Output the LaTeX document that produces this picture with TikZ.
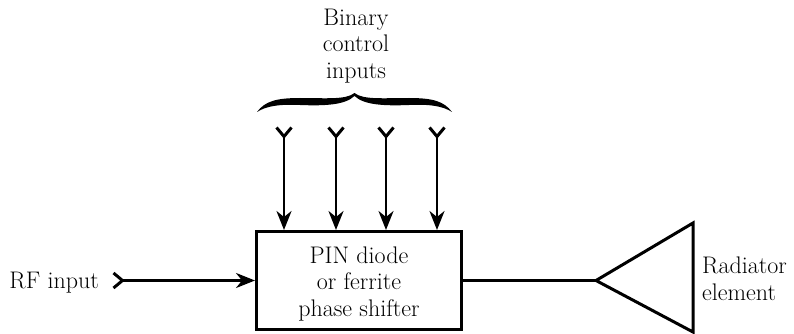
\documentclass[tikz,border=0pt]{standalone}
\usetikzlibrary{arrows.meta}
\begin{document}
\begin{tikzpicture}[x=1pt,y=-1pt,
  lbl/.style={font=\fontsize{24}{26.5}\selectfont, inner sep=0pt, align=center},
  ctrl/.style={line width=2.2pt,
    arrows={Straight Barb[reversed,length=9pt,width=15pt,line width=3pt]-Stealth[length=19pt,width=15pt,inset=6pt]}},
  blk/.style={draw, line width=3pt, minimum width=205pt, minimum height=98pt, inner sep=0pt}]
\useasboundingbox (0,0) rectangle (794,334);
% main block
\node[blk] (box) at (359,280.5) {};
\node[lbl] (boxtxt) at (359,284) {PIN diode\\or ferrite\\phase shifter};
% control inputs
\node[lbl] (ctl) at (356,46) {Binary\\control\\inputs};
\foreach \i/\x in {1/284,2/336,3/386,4/437}{
  \coordinate (t\i) at (\x,126);
  \draw[ctrl] (t\i) -- (t\i |- box.north);
}
% brace
\fill (257,112) .. controls (265,101) and (277,98) .. (300,98)
  .. controls (325,98) and (346,100) .. (354.5,93)
  .. controls (363,100) and (384,98) .. (409,98)
  .. controls (432,98) and (444,101) .. (452,112)
  .. controls (443,106) and (429,104) .. (409,105)
  .. controls (384,106) and (364,105) .. (354.5,96)
  .. controls (345,105) and (325,106) .. (300,105)
  .. controls (280,104) and (266,106) .. (257,112) -- cycle;
% RF input
\node[lbl, anchor=east] (rftxt) at (99,283) {RF input};
\coordinate (rf) at (112,280.5);
\draw[ctrl] (rf) -- (box.west);
% radiator
\coordinate (apex) at (596,280.5);
\coordinate (atop) at (693,223);
\coordinate (abot) at (693,332);
\draw[line width=2.6pt] (box.east) -- (apex);
\draw[line width=3pt, line join=miter] (apex) -- (atop) -- (abot) -- cycle;
\node[lbl, anchor=west, align=left] (radtxt) at (702,279) {Radiator\\element};
\end{tikzpicture}
\end{document}
